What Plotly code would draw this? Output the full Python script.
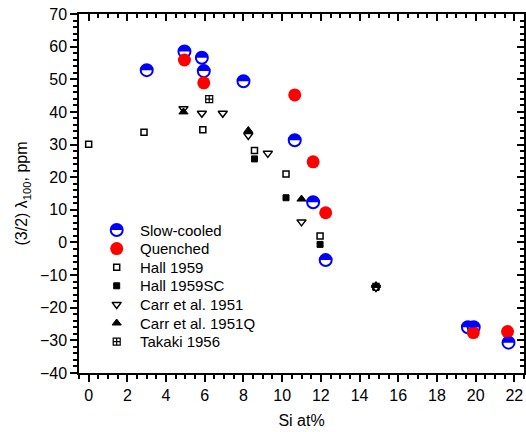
import plotly.graph_objects as go

# ---------------- data ----------------
slow_x = [3.0, 4.95, 5.85, 5.95, 8.0, 10.65, 11.6, 12.25, 19.6, 19.9, 21.7]
slow_y = [52.8, 58.5, 56.6, 52.5, 49.4, 31.3, 12.3, -5.4, -26.0, -26.0, -30.7]

quench_x = [4.95, 5.95, 10.65, 11.6, 12.25, 19.88, 21.65]
quench_y = [55.9, 48.9, 45.2, 24.7, 9.1, -27.6, -27.3]

hall_x = [0.0, 2.86, 5.9, 8.57, 10.2, 11.96, 14.85]
hall_y = [30.1, 33.8, 34.5, 28.2, 21.0, 2.0, -13.5]

hallsc_x = [8.57, 10.2, 11.96, 14.85]
hallsc_y = [25.6, 13.7, -0.6, -13.8]

carr_x = [4.9, 5.85, 6.93, 8.25, 9.26, 11.0, 14.85]
carr_y = [41.0, 39.6, 39.6, 32.8, 27.3, 6.3, -13.8]

carrq_x = [4.9, 8.25, 11.0, 14.85]
carrq_y = [40.0, 34.3, 13.3, -13.2]

takaki_x = [6.23]
takaki_y = [43.9]

series_names = ["Slow-cooled", "Quenched", "Hall 1959", "Hall 1959SC",
                "Carr et al. 1951", "Carr et al. 1951Q", "Takaki 1956"]

# ---------------- geometry / style ----------------
W, H = 526, 432
ML, MR, MT, MB = 79, 2, 14, 59
PW, PH = W - ML - MR, H - MT - MB
FONT = "Liberation Sans, Arial, sans-serif"
BLUE, RED = "#0000FF", "#FF0000"


def px2paper(px, py):
    return (px - ML) / PW, (H - MB - py) / PH


def half_disc(r):
    k = 0.5523 * r
    return (f"M {-r},0 C {-r},{k} {-k},{r} 0,{r} "
            f"C {k},{r} {r},{k} {r},0 Z")


styles = [
    dict(symbol="circle", size=12, color="white", line=dict(color=BLUE, width=2)),
    dict(symbol="circle", size=13, color=RED, line=dict(color=RED, width=0)),
    dict(symbol="square", size=6, color="white", line=dict(color="black", width=1.5)),
    dict(symbol="square", size=6, color="black", line=dict(color="black", width=1)),
    dict(symbol="triangle-down", size=8, color="white", line=dict(color="black", width=1.5)),
    dict(symbol="triangle-up", size=8, color="black", line=dict(color="black", width=1)),
    dict(symbol="square-cross-open", size=7, color="black", line=dict(color="black", width=1.2)),
]

datasets = [(slow_x, slow_y), (quench_x, quench_y), (hall_x, hall_y),
            (hallsc_x, hallsc_y), (carr_x, carr_y), (carrq_x, carrq_y),
            (takaki_x, takaki_y)]

fig = go.Figure()
for (xs, ys), name, st in zip(datasets, series_names, styles):
    fig.add_trace(go.Scatter(x=xs, y=ys, mode="markers", name=name,
                             marker=st, showlegend=False))

# blue upper halves of slow-cooled markers
shapes = []
for xv, yv in zip(slow_x, slow_y):
    shapes.append(dict(type="path", xref="x", yref="y", xsizemode="pixel",
                       ysizemode="pixel", xanchor=xv, yanchor=yv,
                       path=half_disc(6), fillcolor=BLUE,
                       line=dict(width=0), layer="above"))

# mirror axes (inside ticks on top/right)
fig.add_trace(go.Scatter(x=[None], y=[None], xaxis="x2", yaxis="y2",
                         showlegend=False, hoverinfo="skip"))

# ---------------- custom legend ----------------
leg_sym_px = 116.7
leg_txt_px = 137.5
leg_rows_py = [230.0, 248.6, 267.2, 285.8, 304.4, 323.0, 341.6]
annotations = []
for i, (name, st) in enumerate(zip(series_names, styles)):
    sx, sy = px2paper(leg_sym_px, leg_rows_py[i])
    tx, _ = px2paper(leg_txt_px, leg_rows_py[i])
    fig.add_trace(go.Scatter(x=[sx], y=[sy], mode="markers", marker=st,
                             xaxis="x3", yaxis="y3", showlegend=False,
                             hoverinfo="skip"))
    if i == 0:
        shapes.append(dict(type="path", xref="x3", yref="y3", xsizemode="pixel",
                           ysizemode="pixel", xanchor=sx, yanchor=sy,
                           path=half_disc(6), fillcolor=BLUE,
                           line=dict(width=0), layer="above"))
    annotations.append(dict(x=tx, y=sy, xref="paper", yref="paper",
                            text=name, showarrow=False, xanchor="left",
                            yanchor="middle", font=dict(size=15, color="black",
                                                        family=FONT)))

axis_common = dict(showgrid=False, zeroline=False, showline=True,
                   linecolor="black", linewidth=1.5, tickcolor="black",
                   tickwidth=1.5, ticklen=7)

fig.update_layout(
    width=W, height=H,
    margin=dict(l=ML, r=MR, t=MT, b=MB),
    paper_bgcolor="white", plot_bgcolor="white",
    font=dict(family=FONT, size=16, color="black"),
    showlegend=False,
    xaxis=dict(range=[-0.5, 22.5], tick0=0, dtick=2, ticks="outside",
               minor=dict(dtick=0.5, ticks="outside", ticklen=4,
                          tickcolor="black", tickwidth=1.5),
               title=dict(text="Si at%", font=dict(size=16), standoff=12),
               tickfont=dict(size=16), **axis_common),
    yaxis=dict(range=[-40, 70], tick0=0, dtick=10, ticks="outside",
               minor=dict(dtick=2, ticks="outside", ticklen=4,
                          tickcolor="black", tickwidth=1.5),
               title=dict(text="(3/2) λ<sub>100</sub>, ppm", font=dict(size=16),
                          standoff=8),
               tickfont=dict(size=16), **axis_common),
    xaxis2=dict(range=[-0.5, 22.5], overlaying="x", side="top", matches="x",
                tick0=0, dtick=2, ticks="inside", showticklabels=False,
                minor=dict(dtick=0.5, ticks="inside", ticklen=4,
                           tickcolor="black", tickwidth=1.5),
                **axis_common),
    yaxis2=dict(range=[-40, 70], overlaying="y", side="right", matches="y",
                tick0=0, dtick=10, ticks="inside", showticklabels=False,
                minor=dict(dtick=2, ticks="inside", ticklen=4,
                           tickcolor="black", tickwidth=1.5),
                **axis_common),
    xaxis3=dict(range=[0, 1], overlaying="x", visible=False, fixedrange=True),
    yaxis3=dict(range=[0, 1], overlaying="y", visible=False, fixedrange=True),
    shapes=shapes,
    annotations=annotations,
)

fig.write_html("out.html",
               config={"displayModeBar": False},
               post_script="document.body.style.margin='0';"
                           "document.body.style.overflow='hidden';")
